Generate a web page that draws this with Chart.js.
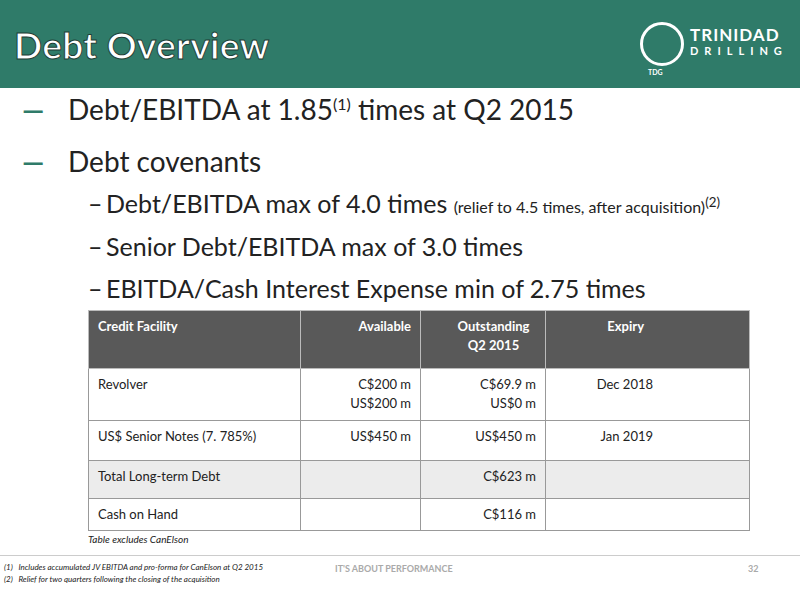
<!DOCTYPE html>
<html><head><meta charset="utf-8">
<script src="https://cdn.jsdelivr.net/npm/chart.js@4.4.0/dist/chart.umd.min.js"></script>
<style>
body{margin:0;width:800px;height:600px;position:relative;font-family:Lato,"Open Sans",sans-serif;background:#fff;overflow:hidden}
#hdr{position:absolute;left:0;top:0;width:800px;height:88px;background:#2f7b69}
#title{position:absolute;left:14px;top:22px;font-size:37px;font-weight:bold;color:#fff;-webkit-text-stroke:1px #1d3e36;letter-spacing:0.3px}
.logo{position:absolute;color:#fff;font-weight:bold}
.b{position:absolute;white-space:nowrap;color:#222}
.dash{color:#2f7b69;font-weight:bold}
table{position:absolute;left:88px;top:310px;width:662px;border-collapse:collapse;font-size:13px;color:#222;table-layout:fixed}
td{border:1px solid #999;vertical-align:top;padding:6px 9px 0 9px;line-height:19px;box-sizing:border-box;overflow:hidden}
tr.h td{background:#595959;color:#fff;font-weight:bold;border-color:#bbb}
.r{text-align:right}.c{text-align:center}
.fn{position:absolute;font-size:8px;font-style:italic;color:#222;left:4px}
</style></head><body>
<div id="hdr"></div>
<div id="title">Debt Overview</div>
<div class="logo" style="left:640px;top:22px;width:38px;height:38px;border:3px solid #fff;border-radius:50%"></div>
<div class="logo" style="left:690px;top:24px;font-size:17px;letter-spacing:1px">TRINIDAD</div>
<div class="logo" style="left:690px;top:44px;font-size:11px;letter-spacing:6px">DRILLING</div>
<div class="logo" style="left:648px;top:68px;font-size:7px">TDG</div>

<div class="b" style="left:22px;top:92px;font-size:28px"><span class="dash">—</span><span style="position:absolute;left:46px">Debt/EBITDA at 1.85<sup style="font-size:16px">(1)</sup> times at Q2 2015</span></div>
<div class="b" style="left:22px;top:144px;font-size:28px"><span class="dash">—</span><span style="position:absolute;left:46px">Debt covenants</span></div>
<div class="b" style="left:88px;top:188px;font-size:25px">–<span style="position:absolute;left:18px">Debt/EBITDA max of 4.0 times <span style="font-size:16px">(relief to 4.5 times, after acquisition)<sup>(2)</sup></span></span></div>
<div class="b" style="left:88px;top:231px;font-size:25px">–<span style="position:absolute;left:18px">Senior Debt/EBITDA max of 3.0 times</span></div>
<div class="b" style="left:88px;top:273px;font-size:25px">–<span style="position:absolute;left:18px">EBITDA/Cash Interest Expense min of 2.75 times</span></div>

<table id="tbl"></table>
<div class="b" style="left:88px;top:533px;font-size:10px;font-style:italic">Table excludes CanElson</div>
<div style="position:absolute;left:0;top:555px;width:800px;border-top:1px solid #ccc"></div>
<div class="fn" style="top:562px">(1)&nbsp;&nbsp;&nbsp;Includes accumulated JV EBITDA and pro-forma for CanElson at Q2 2015</div>
<div class="fn" style="top:574px">(2)&nbsp;&nbsp;&nbsp;Relief for two quarters following the closing of the acquisition</div>
<div class="b" style="left:335px;top:563px;font-size:9px;color:#aaa;font-weight:bold">IT'S ABOUT PERFORMANCE</div>
<div class="b" style="left:748px;top:563px;font-size:9px;color:#aaa;font-weight:bold">32</div>
<canvas id="c" width="1" height="1" style="position:absolute;left:0;top:0;width:1px;height:1px"></canvas>
<script>
const headers=["Credit Facility","Available","Outstanding<br>Q2 2015","Expiry"];
const facilities=["Revolver","US$ Senior Notes (7. 785%)","Total Long-term Debt","Cash on Hand"];
const available=["C$200 m<br>US$200 m","US$450 m","",""];
const outstanding=["C$69.9 m<br>US$0 m","US$450 m","C$623 m","C$116 m"];
const expiry=["Dec 2018","Jan 2019","",""];
const rowBg=["#fff","#fff","#ececec","#fff"];
const rowH=[52,40,38,32];
let h='<colgroup><col style="width:212px"><col style="width:120px"><col style="width:125px"><col></colgroup>';
h+='<tr class="h" style="height:58px"><td>'+headers[0]+'</td><td class="r">'+headers[1]+'</td><td class="c" style="padding-left:30px">'+headers[2]+'</td><td class="r" style="padding-right:105px">'+headers[3]+'</td></tr>';
facilities.forEach((f,i)=>{h+='<tr style="height:'+rowH[i]+'px;background:'+rowBg[i]+'"><td>'+f+'</td><td class="r">'+available[i]+'</td><td class="r">'+outstanding[i]+'</td><td class="r" style="padding-right:96px">'+expiry[i]+'</td></tr>';});
document.getElementById('tbl').innerHTML=h;
try{new Chart(document.getElementById('c'),{type:'bar',data:{labels:[],datasets:[]},options:{animation:false,responsive:false,plugins:{legend:{display:false}}}});}catch(e){}
</script>
</body></html>
